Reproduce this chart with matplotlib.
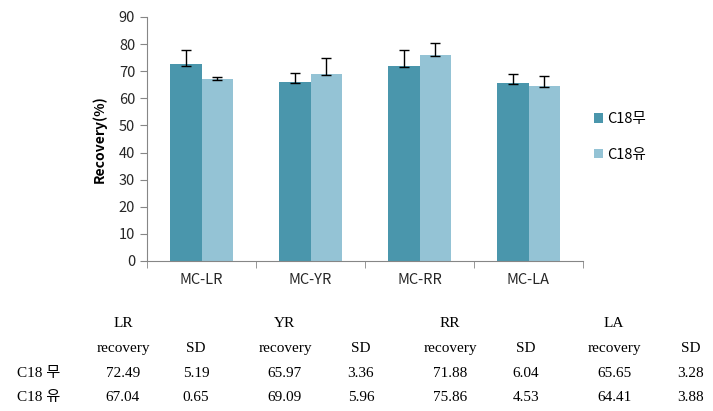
import matplotlib
matplotlib.use('Agg')
import matplotlib.pyplot as plt
import numpy as np

plt.rcParams['font.family'] = ['Noto Sans CJK KR', 'DejaVu Sans']

W, H = 713, 411

cats = ['MC-LR', 'MC-YR', 'MC-RR', 'MC-LA']
short = ['LR', 'YR', 'RR', 'LA']
series = ['C18무', 'C18유']
row_names = ['C18 무', 'C18 유']
rec_no = [72.49, 65.97, 71.88, 65.65]
sd_no = [5.19, 3.36, 6.04, 3.28]
rec_yes = [67.04, 69.09, 75.86, 64.41]
sd_yes = [0.65, 5.96, 4.53, 3.88]

c_dark = '#4A96AC'
c_light = '#94C3D5'
axis_col = '#868686'

fig = plt.figure(figsize=(W / 100, H / 100), dpi=100)
ax = fig.add_axes([147 / W, 1 - 261 / H, (583 - 147) / W, (261 - 17) / H])

x = np.arange(len(cats))
bw = 0.29
means = [rec_no, rec_yes]
sds = [sd_no, sd_yes]
cols = [c_dark, c_light]
for i in range(2):
    xs = x + (i - 0.5) * bw
    ax.bar(xs, means[i], bw, color=cols[i], label=series[i], zorder=2)
    ax.errorbar(xs, means[i], yerr=[np.full(len(cats), 0.4), sds[i]], fmt='none',
                ecolor='black', elinewidth=1, capsize=3.5, capthick=1, zorder=3)

ax.set_xlim(-0.5, len(cats) - 0.5)
ax.set_ylim(0, 90)
ax.set_yticks(range(0, 91, 10))
ax.set_xticks(x)
ax.set_xticklabels(cats, fontsize=10.5, color='#262626')
ax.set_xticks(np.arange(-0.5, len(cats)), minor=True)
ax.tick_params(axis='x', which='major', length=0, pad=9)
ax.tick_params(axis='x', which='minor', length=5, color=axis_col, direction='out')
ax.tick_params(axis='y', length=5, color=axis_col, labelsize=10.5, labelcolor='#262626')
for s in ['top', 'right']:
    ax.spines[s].set_visible(False)
for s in ['left', 'bottom']:
    ax.spines[s].set_color(axis_col)

ax.set_ylabel('Recovery(%)', fontsize=10, fontweight='bold', color='black')
ax.yaxis.set_label_coords((107 - 147) / (583 - 147), 0.5)

ax.legend(loc='center left', bbox_to_anchor=(581 / W, 1 - 137 / H),
          bbox_transform=fig.transFigure, frameon=False, fontsize=10.5,
          handlelength=0.6, handleheight=0.6, handletextpad=0.3,
          labelspacing=1.5)

# table below the chart
serif = ['Liberation Serif', 'Noto Sans CJK KR']
tfs = 11


def put(px, py, s):
    fig.text(px / W, 1 - py / H, s, ha='center', va='center',
             fontsize=tfs, family=serif, color='black')


rec_x = [123, 285, 450, 614]
sd_x = [196, 361, 526, 691]
for j in range(len(cats)):
    put(rec_x[j], 323, short[j])
    put(rec_x[j], 348, 'recovery')
    put(sd_x[j], 348, 'SD')
    put(rec_x[j], 373, f'{rec_no[j]:.2f}')
    put(sd_x[j], 373, f'{sd_no[j]:.2f}')
    put(rec_x[j], 397, f'{rec_yes[j]:.2f}')
    put(sd_x[j], 397, f'{sd_yes[j]:.2f}')
put(39, 373, row_names[0])
put(39, 397, row_names[1])

fig.savefig('out.png', dpi=100)
